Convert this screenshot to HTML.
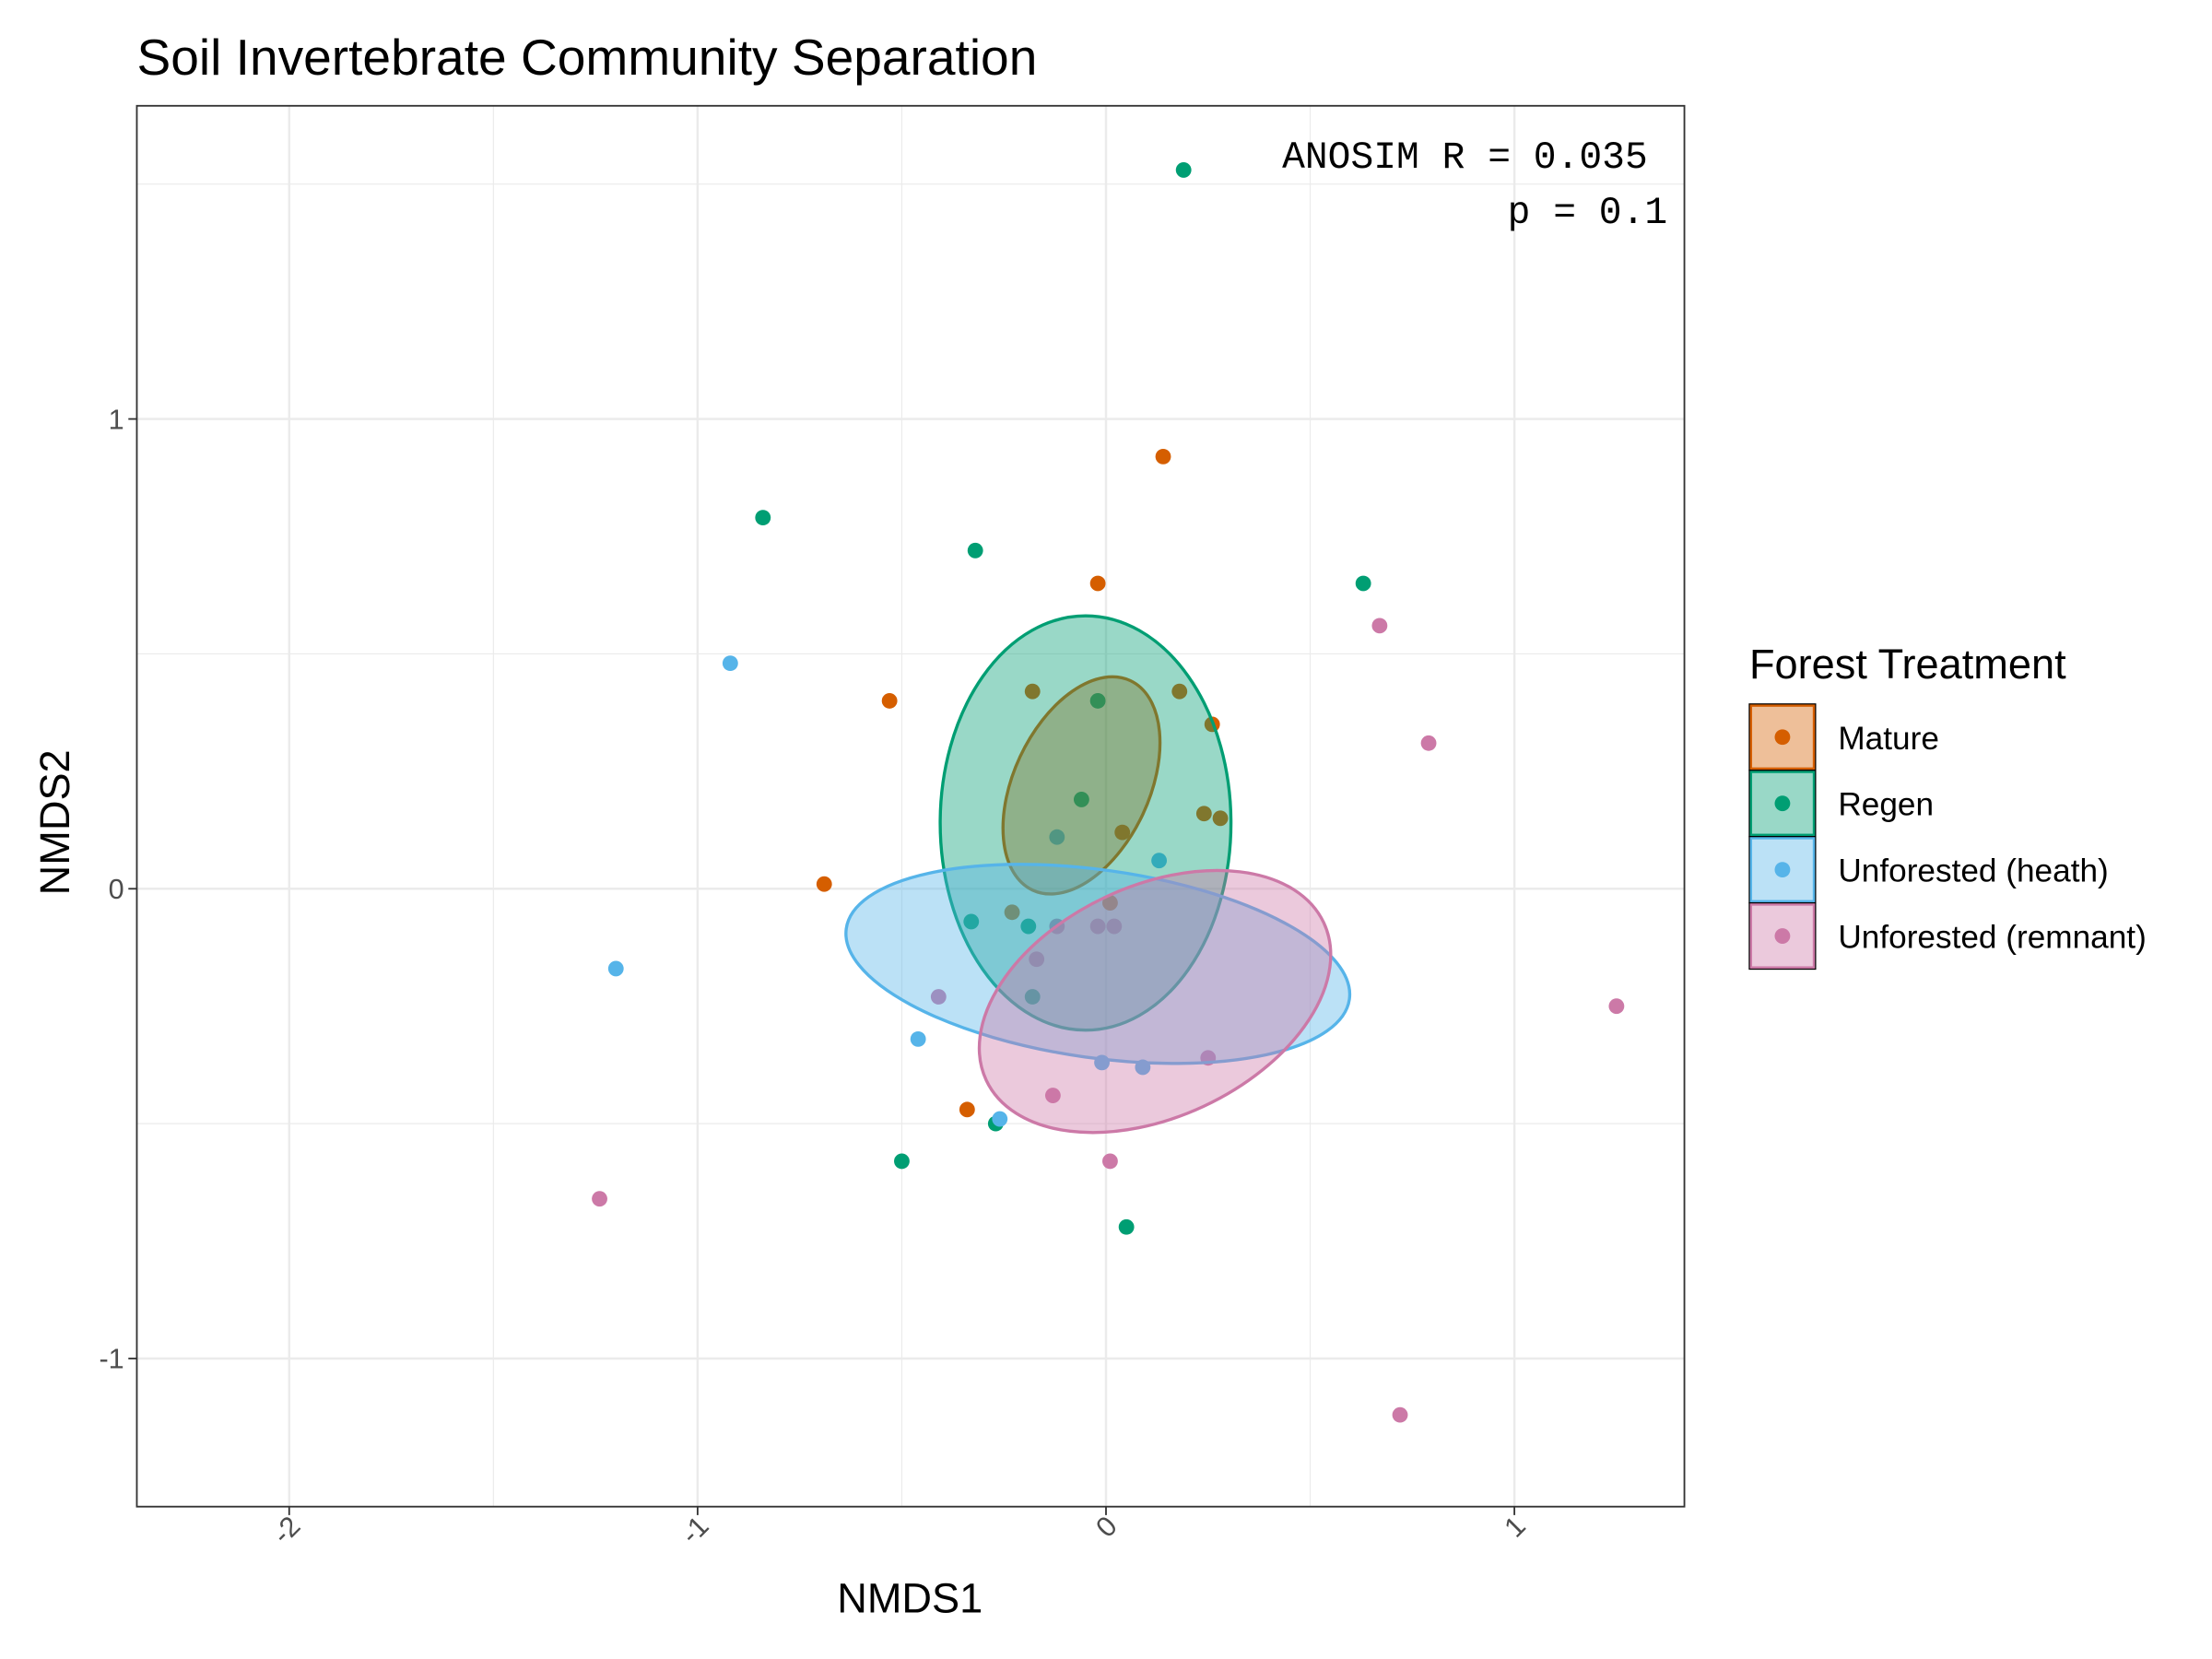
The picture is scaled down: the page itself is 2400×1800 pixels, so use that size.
<!DOCTYPE html>
<html><head><meta charset="utf-8"><style>
html,body{margin:0;padding:0;background:#fff}
svg{display:block}
text{font-family:"Liberation Sans",sans-serif}
</style></head><body>
<svg id="chart" width="2400" height="1800" viewBox="0 0 1568 1176" xmlns="http://www.w3.org/2000/svg">
<rect x="0" y="0" width="1568" height="1176" fill="#fff"/>
<text x="97" y="53" font-size="36" fill="#000">Soil Invertebrate Community Separation</text>
<g id="grid"></g>
<g id="ellipses"></g>
<g id="points"></g>
<rect x="97" y="75" width="1097" height="993" fill="none" stroke="#333" stroke-width="1.2"/>
<g id="axes"></g>
<text x="1168" y="119" font-size="27" text-anchor="end" style="font-family:'Liberation Mono',monospace" fill="#000">ANOSIM R = 0.035</text>
<text x="1182" y="158" font-size="27" text-anchor="end" style="font-family:'Liberation Mono',monospace" fill="#000">p = 0.1</text>
<text x="645" y="1143" font-size="29.5" text-anchor="middle" fill="#000">NMDS1</text>
<text transform="translate(49,583) rotate(-90)" font-size="29.5" text-anchor="middle" fill="#000">NMDS2</text>
<g id="legend">
<text x="1240" y="481" font-size="29.5" fill="#000">Forest Treatment</text>
</g>
</svg>
<script>
const groups = ["Mature","Regen","Unforested (heath)","Unforested (remnant)"];
const colors = ["#D55E00","#009E73","#56B4E9","#CC79A7"];
const matureX = [0.14,-0.02,-0.53,-0.69,-0.34,-0.18,0.18,0.26,0.24,0.28,0.04,0.01,-0.23];
const matureY = [0.92,0.65,0.40,0.01,-0.47,0.42,0.42,0.35,0.16,0.15,0.12,-0.03,-0.05];
const regenX = [0.19,-0.84,-0.32,0.63,-0.02,-0.06,-0.33,-0.19,-0.27,-0.50,0.05,-0.18];
const regenY = [1.53,0.79,0.72,0.65,0.40,0.19,-0.07,-0.08,-0.50,-0.58,-0.72,-0.23];
const heathX = [-0.92,-1.20,-0.46,-0.26,0.13,-0.12,-0.01,0.09];
const heathY = [0.48,-0.17,-0.32,-0.49,0.06,0.11,-0.37,-0.38];
const remnantX = [0.67,0.79,1.25,0.72,-1.24,-0.13,0.01,0.25,-0.41,-0.17,-0.12,-0.02,0.02];
const remnantY = [0.56,0.31,-0.25,-1.12,-0.66,-0.44,-0.58,-0.36,-0.23,-0.15,-0.08,-0.08,-0.08];
const ellCX = [-0.06,-0.05,-0.02,0.12];
const ellCY = [0.22,0.14,-0.16,-0.24];
const ellRX = [0.166,0.356,0.622,0.456];
const ellRY = [0.246,0.441,0.2,0.246];
const ellAngle = [25,0,8,-25];
const xTicks = [-2,-1,0,1];
const yTicks = [-1,0,1];
const xMinor = [-1.5,-0.5,0.5];
const yMinor = [-0.5,0.5,1.5];

const NS="http://www.w3.org/2000/svg";
const L=97,R=1194,T=75,B=1068;
const sx=v=>784+v*289.5;
const sy=v=>630-v*333;
function mk(tag,attrs,parent){const e=document.createElementNS(NS,tag);for(const k in attrs)e.setAttribute(k,attrs[k]);parent.appendChild(e);return e;}
const grid=document.getElementById('grid');
for(const v of xMinor){const e=mk('line',{x1:sx(v),x2:sx(v),y1:T,y2:B,stroke:'#ebebeb','stroke-width':0.8},grid);

}
for(const v of yMinor){const e=mk('line',{x1:L,x2:R,y1:sy(v),y2:sy(v),stroke:'#ebebeb','stroke-width':0.8},grid);

}
for(const v of xTicks){const e=mk('line',{x1:sx(v),x2:sx(v),y1:T,y2:B,stroke:'#ebebeb','stroke-width':1.6},grid);

}
for(const v of yTicks){const e=mk('line',{x1:L,x2:R,y1:sy(v),y2:sy(v),stroke:'#ebebeb','stroke-width':1.6},grid);

}
const pg=document.getElementById('points');
const sets=[[matureX,matureY],[regenX,regenY],[heathX,heathY],[remnantX,remnantY]];
for(let i=0;i<4;i++){
 const [xs,ys]=sets[i];
 for(let j=0;j<xs.length;j++){
  const c=mk('circle',{cx:sx(xs[j]),cy:sy(ys[j]),r:5.5,fill:colors[i]},pg);
  
  
 }
}
const eg=document.getElementById('ellipses');
for(let i=0;i<4;i++){
 const cx=sx(ellCX[i]),cy=sy(ellCY[i]);
 const e=mk('ellipse',{cx:cx,cy:cy,rx:ellRX[i]*289.5,ry:ellRY[i]*333,fill:colors[i],'fill-opacity':0.4,stroke:colors[i],'stroke-width':2.2,transform:`rotate(${ellAngle[i]} ${cx} ${cy})`},eg);
 
 
}
eg.parentNode.insertBefore(pg,eg);
const ax=document.getElementById('axes');
for(const v of xTicks){
 mk('line',{x1:sx(v),x2:sx(v),y1:B,y2:B+6,stroke:'#333','stroke-width':1.2},ax);
 const t=mk('text',{transform:`translate(${sx(v)+9},${B+15}) rotate(-45)`,'font-size':20,'text-anchor':'end',fill:'#4d4d4d'},ax);
 t.textContent=v;
 
 
}
for(const v of yTicks){
 mk('line',{x1:L-6,x2:L,y1:sy(v),y2:sy(v),stroke:'#333','stroke-width':1.2},ax);
 const t=mk('text',{x:L-9,y:sy(v)+7,'font-size':20,'text-anchor':'end',fill:'#4d4d4d'},ax);
 t.textContent=v;
 
 
}
const lg=document.getElementById('legend');
for(let i=0;i<4;i++){
 const y=500+i*47;
 const r=mk('rect',{x:1241,y:y,width:45,height:45,fill:colors[i],'fill-opacity':0.4,stroke:colors[i],'stroke-width':2},lg);
 
 
 mk('rect',{x:1240,y:y-1,width:47,height:47,fill:'none',stroke:'#000','stroke-width':0.8},lg);
 mk('circle',{cx:1263.5,cy:y+22.5,r:5.5,fill:colors[i]},lg);
 const t=mk('text',{x:1303,y:y+31,'font-size':23,fill:'#000'},lg);
 t.textContent=groups[i];
 
 
}
</script>
</body></html>
